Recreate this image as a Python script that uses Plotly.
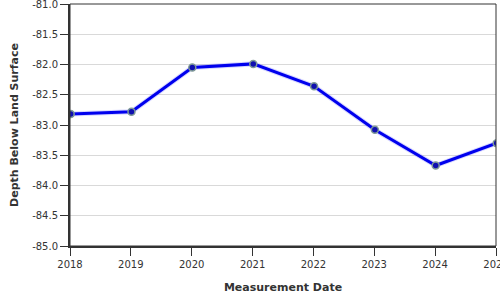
import plotly.graph_objects as go

dates = ["2018-01-05", "2019-01-05", "2020-01-05", "2021-01-05",
         "2022-01-05", "2023-01-05", "2024-01-05", "2025-01-05"]
depth = [-82.82, -82.78, -82.05, -81.99, -82.36, -83.08, -83.67, -83.30]
y_ticks = [-85.0, -84.5, -84.0, -83.5, -83.0, -82.5, -82.0, -81.5, -81.0]
x_ticks = ["2018-01-01", "2019-01-01", "2020-01-01", "2021-01-01",
           "2022-01-01", "2023-01-01", "2024-01-01", "2025-01-01"]
x_labels = ["2018", "2019", "2020", "2021", "2022", "2023", "2024", "2025"]

fig = go.Figure()
fig.add_trace(go.Scatter(
    x=dates, y=depth, mode="lines",
    line=dict(color="rgba(100,100,255,0.25)", width=5),
    hoverinfo="skip", showlegend=False))
fig.add_trace(go.Scatter(
    x=dates, y=depth, mode="lines+markers",
    line=dict(color="#0000ee", width=3),
    marker=dict(size=7, color="#1010b0", line=dict(color="#7f9a96", width=1.5)),
    showlegend=False))

font = "DejaVu Sans, Verdana, sans-serif"
fig.update_layout(
    width=500, height=300,
    margin=dict(l=70, r=4, t=4, b=54),
    paper_bgcolor="white", plot_bgcolor="white",
    font=dict(family=font, size=10, color="#333"),
    xaxis=dict(
        type="date", range=["2018-01-01", "2025-01-01"],
        tickvals=x_ticks, ticktext=x_labels,
        showgrid=False, zeroline=False, automargin=False,
        showline=True, linecolor="#333", linewidth=2,
        ticks="outside", ticklen=8, tickcolor="#333", tickwidth=1,
        ticklabeloverflow="allow",
        tickfont=dict(size=10, color="#333"),
        title=dict(text="<b>Measurement Date</b>", font=dict(size=11, color="#333"), standoff=14),
    ),
    yaxis=dict(
        range=[-85, -81], tickvals=y_ticks,
        ticktext=[f"{v:.1f}" for v in y_ticks],
        showgrid=True, gridcolor="#d9d9d9", gridwidth=1, zeroline=False, automargin=False,
        showline=True, linecolor="#333", linewidth=2,
        ticks="outside", ticklen=8, tickcolor="#333", tickwidth=1,
        ticklabeloverflow="allow",
        tickfont=dict(size=10, color="#333"),
        title=dict(text="<b>Depth Below Land Surface</b>", font=dict(size=11, color="#333"), standoff=11),
    ),
    shapes=[dict(type="rect", xref="paper", yref="paper", x0=0, x1=1, y0=0, y1=1,
                 line=dict(color="#333", width=1), layer="above")],
)
fig.write_html("out.html")
